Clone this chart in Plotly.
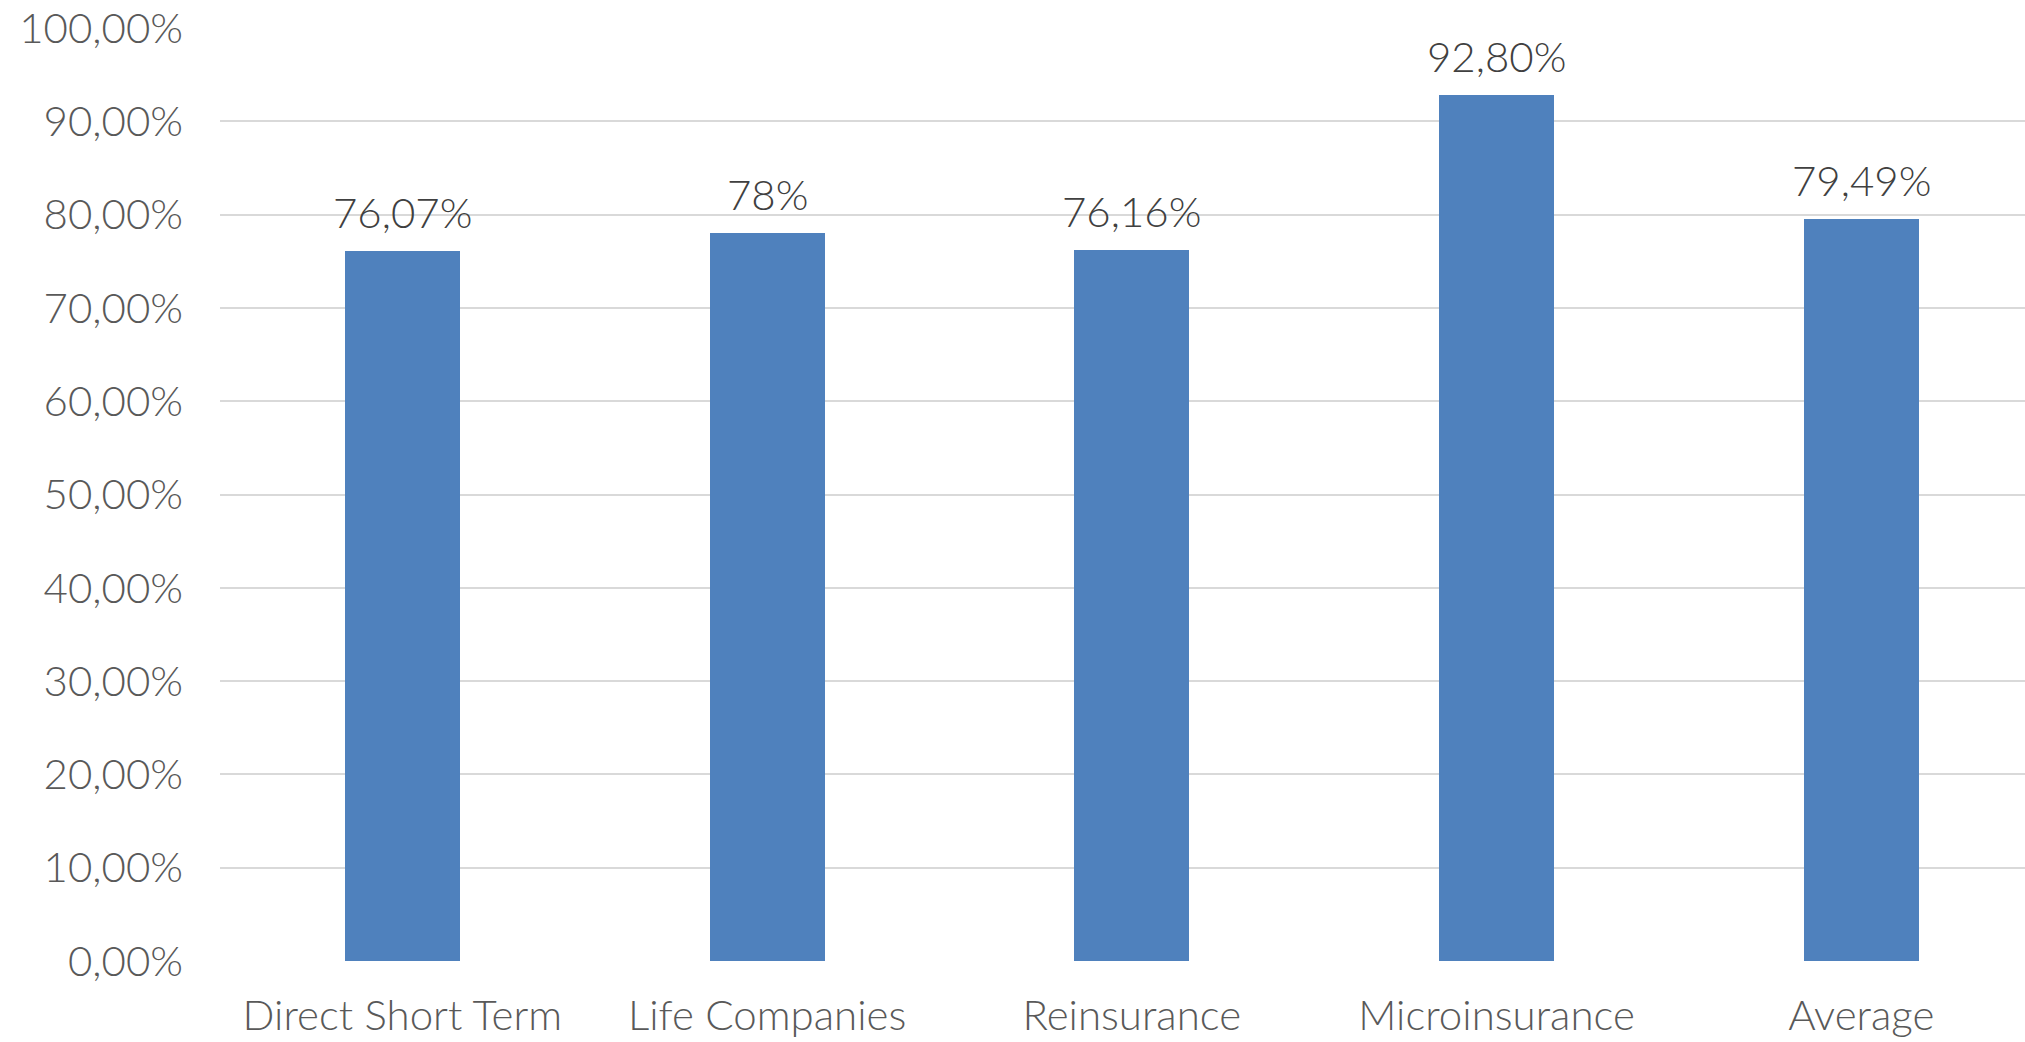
import plotly.graph_objects as go

categories = ["Direct Short Term", "Life Companies", "Reinsurance", "Microinsurance", "Average"]
values = [0.7607, 0.78, 0.7616, 0.928, 0.7949]
value_labels = ["76,07%", "78%", "76,16%", "92,80%", "79,49%"]
y_tick_vals = [0, 0.1, 0.2, 0.3, 0.4, 0.5, 0.6, 0.7, 0.8, 0.9, 1.0]
y_tick_text = ["0,00%", "10,00%", "20,00%", "30,00%", "40,00%", "50,00%",
               "60,00%", "70,00%", "80,00%", "90,00%", "100,00%"]

FONT = "Lato, 'Noto Sans', sans-serif"
xs = list(range(len(categories)))

fig = go.Figure(go.Bar(
    x=xs,
    y=values,
    width=0.315,
    marker=dict(color="#4F81BD", line=dict(width=0)),
    hoverinfo="skip",
))

for x, v, t in zip(xs, values, value_labels):
    fig.add_annotation(
        x=x, y=v, text=t, showarrow=False,
        xanchor="center", yanchor="bottom", yshift=12,
        font=dict(family=FONT, size=42, color="#404040", weight=300),
    )

fig.update_layout(
    width=2025, height=1042,
    margin=dict(l=220, r=0, t=28, b=81),
    paper_bgcolor="white", plot_bgcolor="white",
    showlegend=False,
    bargap=0,
)
fig.update_xaxes(
    range=[-0.5, 4.449],
    tickvals=xs,
    ticktext=categories,
    tickfont=dict(family=FONT, size=42, color="#595959", weight=300),
    showgrid=False, zeroline=False, showline=False,
    ticks="", ticklabelstandoff=26,
)
fig.update_yaxes(
    range=[0, 1.0],
    tickvals=y_tick_vals,
    ticktext=y_tick_text,
    tickfont=dict(family=FONT, size=42, color="#595959", weight=300),
    showgrid=True, gridcolor="#D9D9D9", gridwidth=1.5,
    zeroline=False, showline=False, ticks="",
    ticklabelstandoff=36,
)

fig.write_html("out.html")
